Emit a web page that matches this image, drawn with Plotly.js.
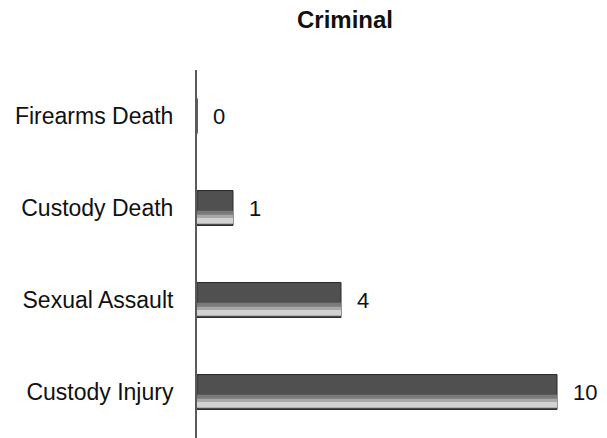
<!DOCTYPE html>
<html>
<head>
<meta charset="utf-8">
<script src="https://cdn.plot.ly/plotly-3.0.1.min.js"></script>
<style>html,body{margin:0;padding:0;background:#fff;}#chart{width:607px;height:438px;}</style>
</head>
<body>
<div id="chart"></div>
<script>
const categories = ["Firearms Death", "Custody Death", "Sexual Assault", "Custody Injury"];
const values = [0, 1, 4, 10];
const chartTitle = "Criminal";

const font = "Liberation Sans, Arial, sans-serif";

const traces = [
  {
    type: "bar", orientation: "h", y: categories, x: values,
    width: 0.38, offset: -0.19,
    marker: {color: "#505050", line: {color: "#2a2a2a", width: 1}},
    hoverinfo: "x+y", showlegend: false
  },
  {
    type: "bar", orientation: "h", y: categories, x: values,
    width: 0.04, offset: 0.03,
    marker: {color: "#7a7a7a", line: {width: 0}},
    hoverinfo: "skip", showlegend: false
  },
  {
    type: "bar", orientation: "h", y: categories, x: values,
    width: 0.04, offset: 0.07,
    marker: {color: "#a8a8a8", line: {width: 0}},
    hoverinfo: "skip", showlegend: false
  },
  {
    type: "bar", orientation: "h", y: categories, x: values,
    width: 0.06, offset: 0.11,
    marker: {color: "#d2d2d2", line: {width: 0}},
    hoverinfo: "skip", showlegend: false
  }
];

const annotations = categories.map((c, i) => ({
  x: values[i], y: c, xref: "x", yref: "y",
  text: String(values[i]), showarrow: false,
  xanchor: "left", yanchor: "middle", xshift: 14,
  font: {family: font, size: 22, color: "#111"}
}));

const layout = {
  width: 607, height: 438,
  margin: {l: 197, r: 10, t: 70, b: 0, pad: 0},
  paper_bgcolor: "#fff", plot_bgcolor: "#fff",
  barmode: "overlay",
  title: {text: "<b>" + chartTitle + "</b>", x: 345/607, xanchor: "center", xref: "container",
          y: 0.956, yanchor: "middle", yref: "container",
          font: {family: font, size: 24, color: "#111"}},
  xaxis: {range: [0, 400/36], showgrid: false, zeroline: false, showline: false,
          showticklabels: false, ticks: "", fixedrange: true},
  yaxis: {type: "category", autorange: "reversed", showgrid: false, zeroline: false,
          showline: true, linecolor: "#5a5a5a", linewidth: 2, ticks: "",
          ticklabelstandoff: 17,
          tickfont: {family: font, size: 23, color: "#111"}},
  annotations: annotations,
  font: {family: font}
};

Plotly.newPlot("chart", traces, layout, {displayModeBar: false, staticPlot: true});
</script>
</body>
</html>
